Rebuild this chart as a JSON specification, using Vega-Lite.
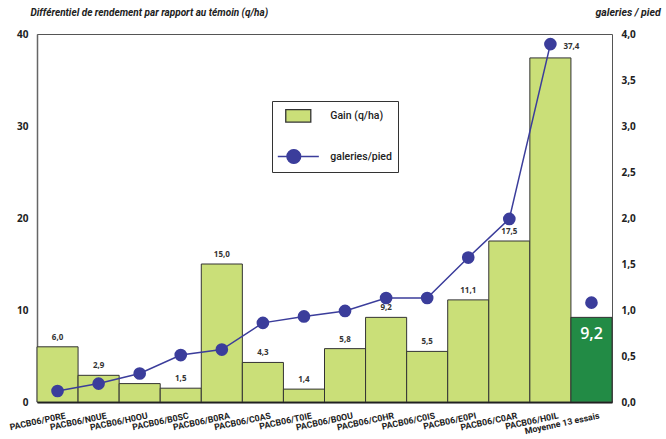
{
  "$schema": "https://vega.github.io/schema/vega-lite/v6.json",
  "width": 575,
  "height": 368,
  "autosize": {"type": "none"},
  "padding": {"left": 37, "top": 34, "right": 54, "bottom": 37},
  "background": "white",
  "config": {
    "locale": {"number": {"decimal": ",", "thousands": " ", "grouping": [3], "currency": ["", " €"]}},
    "view": {"stroke": "#555", "strokeWidth": 1},
    "font": "Open Sans"
  },
  "data": {
    "values": [
      {"cat": "PACB06/P0RE", "gain": 6.0, "gal": 0.12},
      {"cat": "PACB06/N0UE", "gain": 2.9, "gal": 0.20},
      {"cat": "PACB06/H0OU", "gain": 2.0, "gal": 0.31},
      {"cat": "PACB06/B0SC", "gain": 1.5, "gal": 0.51},
      {"cat": "PACB06/B0RA", "gain": 15.0, "gal": 0.57},
      {"cat": "PACB06/C0AS", "gain": 4.3, "gal": 0.86},
      {"cat": "PACB06/T0IE", "gain": 1.4, "gal": 0.93},
      {"cat": "PACB06/B0OU", "gain": 5.8, "gal": 0.99},
      {"cat": "PACB06/C0HR", "gain": 9.2, "gal": 1.13},
      {"cat": "PACB06/C0IS", "gain": 5.5, "gal": 1.13},
      {"cat": "PACB06/E0PI", "gain": 11.1, "gal": 1.57},
      {"cat": "PACB06/C0AR", "gain": 17.5, "gal": 1.99},
      {"cat": "PACB06/H0IL", "gain": 37.4, "gal": 3.89},
      {"cat": "Moyenne 13 essais", "gain": 9.2, "gal": 1.08}
    ]
  },
  "encoding": {
    "x": {
      "field": "cat",
      "type": "nominal",
      "sort": null,
      "scale": {"paddingInner": 0, "paddingOuter": 0},
      "axis": {
        "title": null,
        "ticks": false,
        "labelAngle": -12,
        "labelAlign": "right",
        "labelBaseline": "top",
        "labelFontSize": 8.8,
        "labelFontWeight": "bold",
        "labelColor": "#222",
        "labelPadding": 9,
        "labelOffset": 7,
        "labelFont": "Roboto",
        "domainColor": "#111",
        "domainWidth": 2
      }
    }
  },
  "layer": [
    {
      "encoding": {
        "y": {
          "field": "gain",
          "type": "quantitative",
          "scale": {"domain": [0, 40], "nice": false},
          "axis": {
            "values": [0, 10, 20, 30, 40],
            "format": "d",
            "ticks": false,
            "grid": false,
            "labelPadding": 9,
            "labelFontSize": 10,
            "labelFontWeight": "bold",
            "labelColor": "#222",
            "domainColor": "#666",
            "domainWidth": 1.5,
            "title": "Différentiel de rendement par rapport au témoin (q/ha)",
            "titleAngle": 0,
            "titleX": -7,
            "titleY": -22,
            "titleAlign": "left",
            "titleBaseline": "middle",
            "titleFont": "Roboto",
            "titleFontStyle": "italic",
            "titleFontWeight": "bold",
            "titleFontSize": 10,
            "titleColor": "#222"
          }
        }
      },
      "layer": [
        {
          "transform": [{"filter": "datum.cat !== 'Moyenne 13 essais'"}],
          "mark": {"type": "bar", "stroke": "#333", "strokeWidth": 1},
          "encoding": {
            "color": {
              "datum": "Gain (q/ha)",
              "type": "nominal",
              "scale": {"domain": ["Gain (q/ha)", "galeries/pied"], "range": ["#CADF78", "#3B3D9B"]},
              "legend": {
                "title": null,
                "orient": "none",
                "legendX": 235,
                "legendY": 67,
                "direction": "vertical",
                "strokeColor": "#333",
                "fillColor": "white",
                "padding": 5.3,
                "symbolSize": 300,
                "symbolStrokeWidth": 1.3,
                "rowPadding": 20.7,
                "labelOffset": 34,
                "labelFont": "Roboto",
                "labelFontSize": 10.5,
                "labelFontWeight": 500,
                "labelColor": "#222",
                "encoding": {
                  "symbols": {
                    "shape": {"value": {"expr": "datum.value === 'Gain (q/ha)' ? 'M-0.12,-0.72H2.77V0.72H-0.12Z' : 'M-1.04,0H0.01A0.8,0.8 0 1,1 1.61,0H3.7M1.61,0A0.8,0.8 0 1,1 0.01,0'"}},
                    "fill": {"value": {"expr": "datum.value === 'Gain (q/ha)' ? '#CADF78' : '#3B3D9B'"}},
                    "stroke": {"value": {"expr": "datum.value === 'Gain (q/ha)' ? '#333' : '#3B3D9B'"}},
                    "strokeWidth": {"value": 1.3},
                    "opacity": {"value": 1},
                    "fillOpacity": {"value": 1}
                  }
                }
              }
            }
          }
        },
        {
          "transform": [{"filter": "datum.cat === 'Moyenne 13 essais'"}],
          "mark": {"type": "bar", "fill": "#228B45", "stroke": "#333", "strokeWidth": 1}
        },
        {
          "transform": [{"filter": "datum.cat !== 'Moyenne 13 essais' && datum.cat !== 'PACB06/H0IL'"}],
          "mark": {"type": "text", "dy": -9, "fontSize": 8, "fontWeight": "bold", "color": "#333", "font": "Open Sans"},
          "encoding": {"text": {"field": "gain", "type": "quantitative", "format": ".1f"}}
        },
        {
          "transform": [{"filter": "datum.cat === 'PACB06/H0IL'"}],
          "mark": {"type": "text", "dx": 21, "dy": -11, "fontSize": 8, "fontWeight": "bold", "color": "#333", "font": "Open Sans"},
          "encoding": {"text": {"field": "gain", "type": "quantitative", "format": ".1f"}}
        },
        {
          "transform": [{"filter": "datum.cat === 'Moyenne 13 essais'"}],
          "mark": {"type": "text", "dy": 17, "fontSize": 16, "fontWeight": 600, "color": "white", "font": "Open Sans"},
          "encoding": {"text": {"field": "gain", "type": "quantitative", "format": ".1f"}}
        }
      ]
    },
    {
      "encoding": {
        "y": {
          "field": "gal",
          "type": "quantitative",
          "scale": {"domain": [0, 4], "nice": false},
          "axis": {
            "orient": "right",
            "values": [0, 0.5, 1, 1.5, 2, 2.5, 3, 3.5, 4],
            "format": ".1f",
            "ticks": false,
            "grid": false,
            "domain": false,
            "labelPadding": 9,
            "labelFontSize": 10,
            "labelFontWeight": "bold",
            "labelColor": "#222",
            "title": "galeries / pied",
            "titleAngle": 0,
            "titleX": -17,
            "titleY": -22,
            "titleAlign": "left",
            "titleBaseline": "middle",
            "titleFont": "Roboto",
            "titleFontStyle": "italic",
            "titleFontWeight": "bold",
            "titleFontSize": 10.5,
            "titleColor": "#222"
          }
        }
      },
      "layer": [
        {
          "transform": [{"filter": "datum.cat !== 'Moyenne 13 essais'"}],
          "mark": {"type": "line", "color": "#3B3D9B", "strokeWidth": 1.5}
        },
        {
          "mark": {"type": "circle", "color": "#3B3D9B", "size": 160, "opacity": 1}
        }
      ]
    }
  ],
  "resolve": {"scale": {"y": "independent"}}
}
